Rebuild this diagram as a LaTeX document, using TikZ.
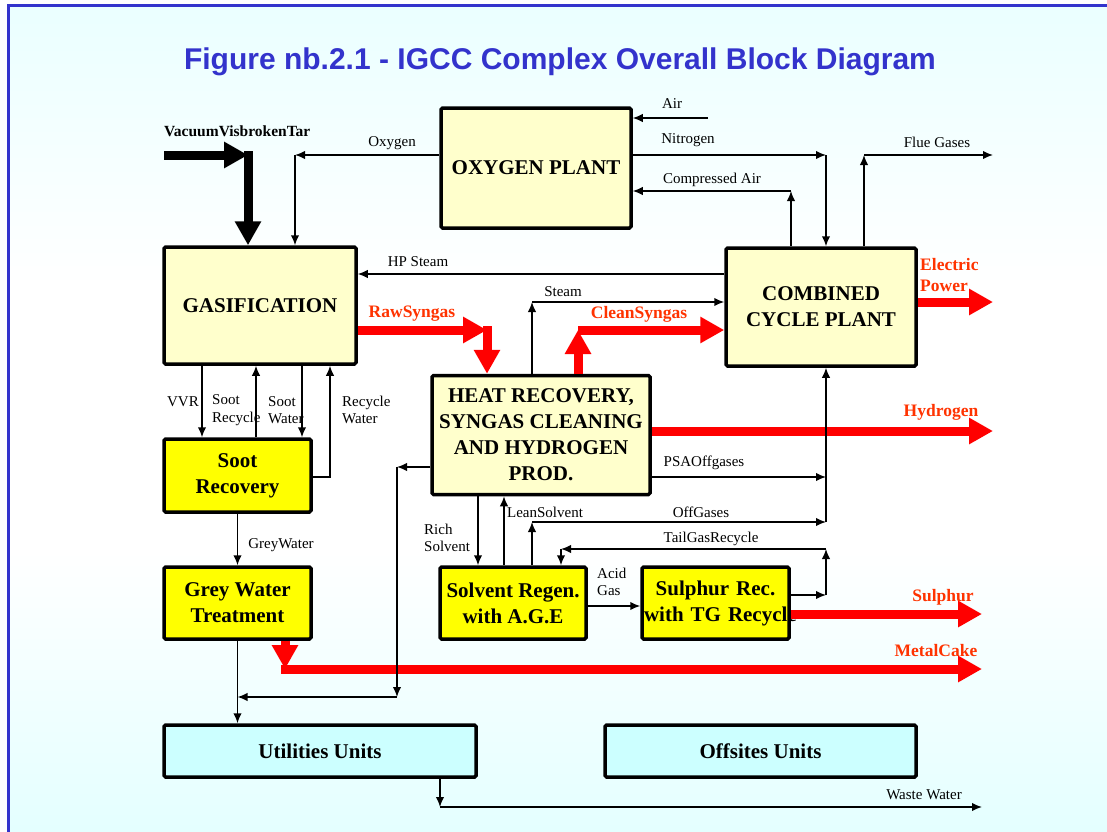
\documentclass[tikz,border=0pt]{standalone}
\usepackage{fontspec}
\setmainfont{Liberation Serif}
\newfontfamily\titlefont{Liberation Sans}
\usetikzlibrary{arrows.meta}

\definecolor{frameblue}{HTML}{3333CC}
\definecolor{skycyan}{HTML}{CCFFFF}
\definecolor{paleyel}{HTML}{FFFFCC}
\definecolor{brightyel}{HTML}{FFFF00}
\definecolor{prodred}{HTML}{FF3300}
\pgfdeclareverticalshading{bgshade}{100bp}{color(0bp)=(skycyan); color(18bp)=(skycyan!75!white);
  color(42bp)=(white); color(58bp)=(white); color(85bp)=(skycyan!65!white); color(100bp)=(skycyan)}

\begin{document}
\begin{tikzpicture}[x=1pt, y=-1pt,
    unit/.style={draw, line width=3.5pt, rounded corners=1.5pt, fill=paleyel, align=center,
      inner sep=0pt, font=\fontsize{21}{26}\selectfont\bfseries},
    yelunit/.style={unit, fill=brightyel, minimum width=147pt, minimum height=72pt},
    auxunit/.style={unit, fill=skycyan, minimum width=312pt, minimum height=52pt},
    lbl/.style={inner sep=0pt, align=left, font=\fontsize{15}{17.5}\selectfont},
    redlbl/.style={inner sep=0pt, align=left, text=prodred, font=\fontsize{17.5}{21}\selectfont\bfseries},
    flow/.style={line width=1.5pt, -{Latex[length=10pt,width=8.5pt]}},
    fat/.style={line width=9pt, -{Triangle[length=24pt,width=25pt]}},
    fatred/.style={fat, red}]

  \useasboundingbox (0,0) rectangle (1107,831);
  \fill[white] (0,0) rectangle (1107,831);
  \shade[shading=bgshade] (8,5) rectangle (1107,831);
  \draw[frameblue, line width=3pt] (8,840) -- (8,5) -- (1120,5);

  \node[font=\titlefont\fontsize{30}{36}\selectfont\bfseries, text=frameblue] (title) at (560,62)
    {Figure nb.2.1 - IGCC Complex Overall Block Diagram};

  \node[unit, minimum width=190pt, minimum height=120pt] (oxy) at (536,168) {OXYGEN PLANT};
  \node[unit, minimum width=192pt, minimum height=117pt] (gas) at (260,305.5) {GASIFICATION};
  \node[unit, minimum width=190pt, minimum height=118pt] (ccp) at (821,307) {COMBINED\\CYCLE PLANT};
  \node[unit, minimum width=218pt, minimum height=119pt] (hrc) at (541,435)
    {HEAT RECOVERY,\\SYNGAS CLEANING\\AND HYDROGEN\\PROD.};
  \node[yelunit, minimum height=73pt] (soot) at (237.5,475.5) {Soot\\Recovery};
  \node[yelunit] (grey) at (237.5,603) {Grey Water\\Treatment};
  \node[yelunit, minimum width=146pt] (solv) at (513,603) {Solvent Regen.\\with A.G.E};
  \node[yelunit, text width=143pt] (sulph) at (715.5,603) {Sulphur Rec.\\\mbox{with TG Recycle}};
  \node[auxunit] (util) at (320,751) {Utilities Units};
  \node[auxunit, minimum width=311pt] (offs) at (760.5,751) {Offsites Units};

  \coordinate (tarin)     at (164,155);
  \coordinate (tarturn)   at (248,155);
  \coordinate (o2turn)    at (295,155);
  \coordinate (airin)     at (708,118);
  \coordinate (n2turn)    at (826,155);
  \coordinate (caturn)    at (791,191);
  \coordinate (flueturn)  at (864,155);
  \coordinate (flueout)   at (993,155);
  \coordinate (hpst)      at (600,274);
  \coordinate (stturn)    at (532,302);
  \coordinate (rawturn)   at (487,330);
  \coordinate (cleanturn) at (578,330);
  \coordinate (elout)     at (993,302);
  \coordinate (h2out)     at (993,431);
  \coordinate (psaend)    at (826,477);
  \coordinate (offturn)   at (532,522);
  \coordinate (offend)    at (826,522);
  \coordinate (tgout)     at (826,595);
  \coordinate (tgturn)    at (826,549);
  \coordinate (tgend)     at (561,549);
  \coordinate (rich)      at (478,493);
  \coordinate (lean)      at (504,493);
  \coordinate (acid)      at (600,606);
  \coordinate (sout)      at (982,614);
  \coordinate (mcturn)    at (285,669);
  \coordinate (mcout)     at (982,669);
  \coordinate (wwturn)    at (397,467);
  \coordinate (wwdown)    at (397,697);
  \coordinate (wwout)     at (440,807);
  \coordinate (wwend)     at (982,807);
  \coordinate (vvr)       at (202,364);
  \coordinate (srec)      at (256,364);
  \coordinate (swat)      at (302,364);
  \coordinate (rwturn)    at (330,477);

  \draw[fat] (tarin) -- (tarturn);
  \draw[fat, line cap=rect] (tarturn) -- (tarturn |- gas.north);
  \draw[fatred] (rawturn -| gas.east) -- (rawturn);
  \draw[fatred, line cap=rect] (rawturn) -- (rawturn |- hrc.north);
  \draw[fatred] (cleanturn |- hrc.north) -- (cleanturn);
  \draw[fatred] (cleanturn) -- (cleanturn -| ccp.west);
  \draw[fatred] (elout -| ccp.east) -- (elout);
  \draw[fatred] (h2out -| hrc.east) -- (h2out);
  \draw[fatred] (sout -| sulph.east) -- (sout);
  \draw[fatred] (mcturn |- grey.south) -- (mcturn);
  \draw[fatred, line cap=rect] (mcturn) -- (mcout);

  \draw[flow] (o2turn -| oxy.west) -- (o2turn);
  \draw[flow] (o2turn) -- (o2turn |- gas.north);
  \draw[flow] (airin) -- (airin -| oxy.east);
  \draw[flow] (n2turn -| oxy.east) -- (n2turn);
  \draw[flow] (n2turn) -- (n2turn |- ccp.north);
  \draw[flow] (caturn |- ccp.north) -- (caturn);
  \draw[flow] (caturn) -- (caturn -| oxy.east);
  \draw[flow] (flueturn |- ccp.north) -- (flueturn);
  \draw[flow] (flueturn) -- (flueout);
  \draw[flow] (hpst -| ccp.west) -- (hpst -| gas.east);
  \draw[flow] (stturn |- hrc.north) -- (stturn);
  \draw[flow] (stturn) -- (stturn -| ccp.west);
  \draw[flow] (psaend -| hrc.east) -- (psaend);
  \draw[flow] (offturn |- solv.north) -- (offturn);
  \draw[flow] (offturn) -- (offend);
  \draw[flow] (offend) -- (offend |- ccp.south);
  \draw[flow] (tgout -| sulph.east) -- (tgout);
  \draw[flow] (tgout) -- (tgturn);
  \draw[flow] (tgturn) -- (tgend);
  \draw[flow] (tgend) -- (tgend |- solv.north);
  \draw[flow] (rich |- hrc.south) -- (rich |- solv.north);
  \draw[flow] (lean |- solv.north) -- (lean |- hrc.south);
  \draw[flow] (acid -| solv.east) -- (acid -| sulph.west);
  \draw[flow] (grey.south) -- (grey.south |- util.north);
  \draw[flow] (wwturn -| hrc.west) -- (wwturn);
  \draw[flow] (wwturn) -- (wwdown);
  \draw[flow] (wwdown) -- (wwdown -| grey.south);
  \draw[flow] (wwout |- util.south) -- (wwout);
  \draw[flow] (wwout) -- (wwend);
  \draw[flow] (soot.south) -- (grey.north);
  \draw[flow] (vvr |- gas.south) -- (vvr |- soot.north);
  \draw[flow] (srec |- soot.north) -- (srec |- gas.south);
  \draw[flow] (swat |- gas.south) -- (swat |- soot.north);
  \draw[flow] (rwturn -| soot.east) -- (rwturn) -- (rwturn |- gas.south);

  \node[inner sep=0pt, anchor=west, font=\fontsize{15.5}{18}\selectfont\bfseries] (tarlbl) at (164,131) {VacuumVisbrokenTar};
  \node[lbl] (o2lbl) at (392,143) {Oxygen};
  \node[lbl] (airlbl) at (672,104) {Air};
  \node[lbl] (n2lbl) at (688,140) {Nitrogen};
  \node[lbl] (calbl) at (712,180) {Compressed Air};
  \node[lbl] (fluelbl) at (937,142) {Flue Gases};
  \node[lbl] (hplbl) at (418,262) {HP Steam};
  \node[lbl] (stlbl) at (563,292) {Steam};
  \node[redlbl] (rawlbl) at (412,314) {RawSyngas};
  \node[redlbl] (cleanlbl) at (639,314) {CleanSyngas};
  \node[redlbl, anchor=west] (ellbl) at (920,275) {Electric\\Power};
  \node[redlbl] (h2lbl) at (941,412) {Hydrogen};
  \node[lbl] (psalbl) at (704,463) {PSAOffgases};
  \node[lbl] (offlbl) at (701,512) {OffGases};
  \node[lbl] (tglbl) at (711,539) {TailGasRecycle};
  \node[lbl, anchor=west] (richlbl) at (424,538) {Rich\\Solvent};
  \node[lbl] (leanlbl) at (545,512) {LeanSolvent};
  \node[lbl, anchor=west] (acidlbl) at (597,582) {Acid\\Gas};
  \node[redlbl] (slbl) at (943,597) {Sulphur};
  \node[redlbl] (mclbl) at (936,650) {MetalCake};
  \node[lbl] (wwlbl) at (924,795) {Waste Water};
  \node[lbl] (greylbl) at (281,545) {GreyWater};
  \node[lbl] (vvrlbl) at (183,402) {VVR};
  \node[lbl, anchor=west] (sreclbl) at (212,410) {Soot\\Recycle};
  \node[lbl, anchor=west] (swatlbl) at (268,410) {Soot\\Water};
  \node[lbl, anchor=west] (rwlbl) at (342,410) {Recycle\\Water};

\end{tikzpicture}
\end{document}
